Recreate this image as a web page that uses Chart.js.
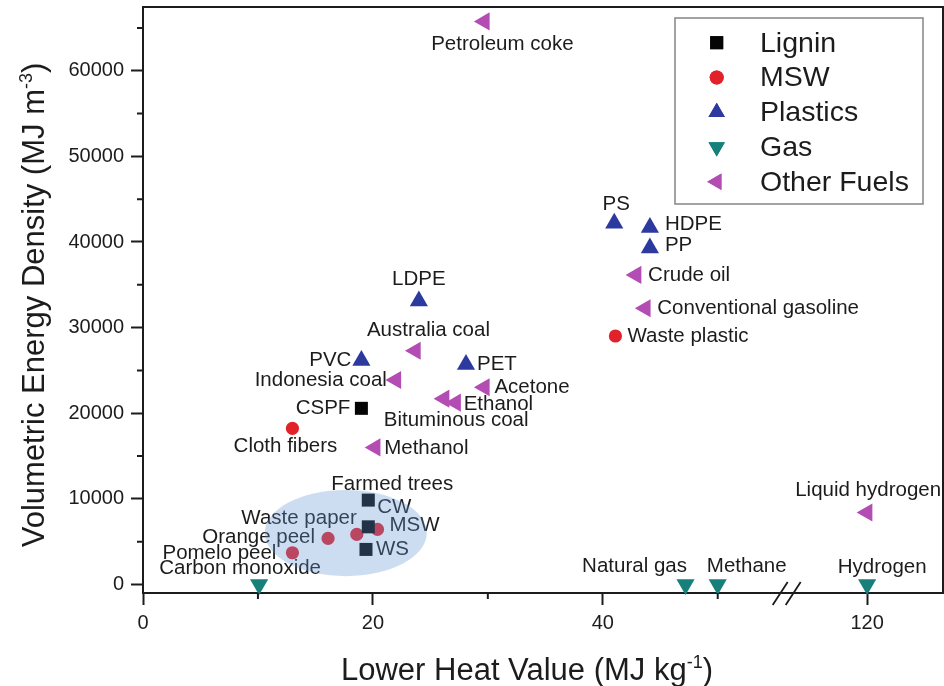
<!DOCTYPE html>
<html>
<head>
<meta charset="utf-8">
<script src="https://cdn.jsdelivr.net/npm/chart.js@4.4.1/dist/chart.umd.min.js"></script>
<style>
  html, body { margin: 0; padding: 0; background: #ffffff; }
  #wrap { width: 944px; height: 686px; }
</style>
</head>
<body>
<div id="wrap"><canvas id="chart" width="944" height="686"></canvas></div>
<script>
// ---- Data: lower heat value (MJ/kg) vs volumetric energy density (MJ/m3) ----
const ligninNames = ['CSPF', 'Farmed trees', 'CW', 'WS'];
const ligninLHV   = [19.0, 19.6, 19.6, 19.4];
const ligninVED   = [20570, 9850, 6730, 4090];

const mswNames = ['Cloth fibers', 'Waste plastic', 'Pomelo peel', 'Orange peel', 'Waste paper', 'MSW'];
const mswLHV   = [13.0, 41.1, 13.0, 16.1, 18.6, 20.4];
const mswVED   = [18230, 29020, 3700, 5380, 5840, 6430];

const plasticNames = ['LDPE', 'PVC', 'PET', 'PS', 'HDPE', 'PP'];
const plasticLHV   = [24.0, 19.0, 28.1, 41.0, 44.1, 44.1];
const plasticVED   = [33100, 26150, 25700, 42200, 41700, 39300];

const gasNames = ['Carbon monoxide', 'Natural gas', 'Methane', 'Hydrogen'];
const gasLHV   = [10.1, 47.2, 50.0, 120.0];
const gasVED   = [0, 0, 0, 0];

const otherNames = ['Petroleum coke', 'Australia coal', 'Indonesia coal', 'Acetone', 'Bituminous coal',
                    'Ethanol', 'Methanol', 'Crude oil', 'Conventional gasoline', 'Liquid hydrogen'];
const otherLHV   = [29.7, 23.7, 22.0, 29.7, 26.2, 27.2, 20.2, 42.9, 43.7, 120.0];
const otherVED   = [65760, 27300, 23880, 23030, 21700, 21230, 16010, 36150, 32260, 8400];

const seriesNames = ['Lignin', 'MSW', 'Plastics', 'Gas', 'Other Fuels'];

// Axis ticks
const xTicksLow  = [0, 10, 20, 30, 40, 50];
const xTicksHigh = [120];
const xLabelled  = [0, 20, 40, 120];
const yTicks     = [0, 5000, 10000, 15000, 20000, 25000, 30000, 35000, 40000, 45000, 50000, 55000, 60000, 65000];
const yLabelled  = [0, 10000, 20000, 30000, 40000, 50000, 60000];

// Broken x axis: low segment and high segment
const X_LOW_MAX  = 56;
const X_HIGH_MIN = 113;
const X_HIGH_MAX = 126.6;
const Y_MIN = -1000;
const Y_MAX = 67450;

// Shaded biomass region (data units)
const biomassRegion = { cx: 17.64, cy: 6000, rx: 7.05, ry: 5030 };

// ---- Styling ----
const FONT = "'Liberation Sans', Arial, Helvetica, sans-serif";
const TITLE_FONT = "'Liberation Sans', Arial, sans-serif";
const INK = '#1c1c1c';

const seriesStyle = {
  'Lignin':      { pointStyle: 'rect',     rotation: 0,   radius: 9.2,  color: '#050505' },
  'MSW':         { pointStyle: 'circle',   rotation: 0,   radius: 6.6,  color: '#e2222b' },
  'Plastics':    { pointStyle: 'triangle', rotation: 0,   radius: 10.5, color: '#2c3a9f' },
  'Gas':         { pointStyle: 'triangle', rotation: 180, radius: 10.5, color: '#17807a' },
  'Other Fuels': { pointStyle: 'triangle', rotation: -90, radius: 10.5, color: '#b34db4' }
};

// label placement relative to each marker: [dx, dy, textAlign]
const labelPlacement = {
  'Petroleum coke': [18, 23, 'center'],
  'LDPE': [0, -22, 'center'],
  'Australia coal': [13, -20, 'center'],
  'PVC': [-10, 0, 'right'],
  'PET': [11, 0, 'left'],
  'Indonesia coal': [-9, 0, 'right'],
  'Acetone': [10, 0, 'left'],
  'Ethanol': [8, 2, 'left'],
  'Bituminous coal': [12, 22, 'center'],
  'CSPF': [-11, 0, 'right'],
  'Cloth fibers': [-7, 18, 'center'],
  'Methanol': [9, 1, 'left'],
  'Farmed trees': [24, -16, 'center'],
  'CW': [9, -19, 'left'],
  'MSW': [12, -4, 'left'],
  'WS': [10, 0, 'left'],
  'Waste paper': [0, -16, 'right'],
  'Orange peel': [-13, -1, 'right'],
  'Pomelo peel': [-16, 1, 'right'],
  'Carbon monoxide': [-19, -16, 'center'],
  'Natural gas': [-51, -18, 'center'],
  'Methane': [29, -18, 'center'],
  'Hydrogen': [15, -17, 'center'],
  'Liquid hydrogen': [1, -22, 'center'],
  'Waste plastic': [12, 0, 'left'],
  'Conventional gasoline': [12, 0, 'left'],
  'Crude oil': [12, 0, 'left'],
  'PS': [2, -19, 'center'],
  'HDPE': [15, -3, 'left'],
  'PP': [15, -3, 'left']
};

// ---- Datasets (points beyond the break go on the high x segment) ----
function buildSeries(series, names, xs, ys) {
  const low = [], high = [];
  xs.forEach((x, i) => {
    const p = { x: x, y: ys[i], name: names[i] };
    (x > X_LOW_MAX ? high : low).push(p);
  });
  const st = seriesStyle[series];
  const base = {
    label: series,
    showLine: false,
    pointStyle: st.pointStyle,
    pointRotation: st.rotation,
    pointRadius: st.radius,
    pointHoverRadius: st.radius,
    pointBackgroundColor: st.color,
    pointBorderColor: st.color,
    pointBorderWidth: 0,
    backgroundColor: st.color,
    borderColor: st.color
  };
  const out = [Object.assign({}, base, { data: low, xAxisID: 'xL', yAxisID: 'y' })];
  if (high.length) out.push(Object.assign({}, base, { data: high, xAxisID: 'xR', yAxisID: 'y' }));
  return out;
}

const datasets = [].concat(
  buildSeries('Lignin', ligninNames, ligninLHV, ligninVED),
  buildSeries('MSW', mswNames, mswLHV, mswVED),
  buildSeries('Plastics', plasticNames, plasticLHV, plasticVED),
  buildSeries('Gas', gasNames, gasLHV, gasVED),
  buildSeries('Other Fuels', otherNames, otherLHV, otherVED)
);

// ---- Drawing helpers ----
function drawMarker(ctx, style, radius, x, y) {
  if (Chart.helpers && Chart.helpers.drawPoint) {
    Chart.helpers.drawPoint(ctx, { pointStyle: style.pointStyle, rotation: style.rotation, radius: radius, borderWidth: 0 }, x, y);
    ctx.fill();
  }
}

function drawSupText(ctx, parts, size, supSize, supRise) {
  // parts: [[text, isSup], ...]; centred on x=0, baseline at y=0
  let w = 0;
  parts.forEach(([t, sup]) => {
    ctx.font = (sup ? supSize : size) + 'px ' + TITLE_FONT;
    w += ctx.measureText(t).width;
  });
  let x = -w / 2;
  parts.forEach(([t, sup]) => {
    ctx.font = (sup ? supSize : size) + 'px ' + TITLE_FONT;
    ctx.fillText(t, x, sup ? -supRise : 0);
    x += ctx.measureText(t).width;
  });
}

const pointLabels = {
  id: 'pointLabels',
  afterDatasetsDraw(chart) {
    const ctx = chart.ctx;
    ctx.save();
    ctx.font = '20.5px ' + FONT;
    ctx.fillStyle = INK;
    ctx.textBaseline = 'middle';
    chart.data.datasets.forEach((ds, i) => {
      const meta = chart.getDatasetMeta(i);
      meta.data.forEach((el, j) => {
        const name = ds.data[j].name;
        const pl = labelPlacement[name] || [10, 0, 'left'];
        ctx.textAlign = pl[2];
        ctx.fillText(name, el.x + pl[0], el.y + pl[1]);
      });
    });
    // translucent highlight over the biomass cluster
    const xs = chart.scales.xL, ys = chart.scales.y;
    const cx = xs.getPixelForValue(biomassRegion.cx);
    const cy = ys.getPixelForValue(biomassRegion.cy);
    const rx = xs.getPixelForValue(biomassRegion.cx + biomassRegion.rx) - cx;
    const ry = cy - ys.getPixelForValue(biomassRegion.cy + biomassRegion.ry);
    ctx.beginPath();
    ctx.ellipse(cx, cy, rx, ry, 0, 0, Math.PI * 2);
    ctx.fillStyle = 'rgba(100, 150, 212, 0.32)';
    ctx.fill();
    ctx.restore();
  }
};

const frameAndTicks = {
  id: 'frameAndTicks',
  afterDraw(chart) {
    const ctx = chart.ctx;
    const a = chart.chartArea;
    ctx.save();
    ctx.strokeStyle = INK;
    ctx.lineWidth = 2;
    // top and right frame
    ctx.beginPath();
    ctx.moveTo(a.left, a.top);
    ctx.lineTo(a.right, a.top);
    ctx.lineTo(a.right, a.bottom);
    ctx.stroke();
    // minor ticks
    const y = chart.scales.y, xL = chart.scales.xL;
    ctx.beginPath();
    yTicks.filter(v => yLabelled.indexOf(v) < 0).forEach(v => {
      const py = y.getPixelForValue(v);
      ctx.moveTo(a.left - 6, py);
      ctx.lineTo(a.left, py);
    });
    xTicksLow.filter(v => xLabelled.indexOf(v) < 0).forEach(v => {
      const px = xL.getPixelForValue(v);
      ctx.moveTo(px, a.bottom);
      ctx.lineTo(px, a.bottom + 6);
    });
    ctx.stroke();
    // axis break marks
    const bx = chart.scales.xR.left;
    ctx.lineWidth = 1.8;
    ctx.beginPath();
    ctx.moveTo(bx - 14, a.bottom + 12); ctx.lineTo(bx + 1, a.bottom - 11);
    ctx.moveTo(bx - 1, a.bottom + 12); ctx.lineTo(bx + 14, a.bottom - 11);
    ctx.stroke();

    // axis titles
    ctx.fillStyle = INK;
    ctx.textAlign = 'left';
    ctx.textBaseline = 'alphabetic';
    ctx.save();
    ctx.translate(527, 680);
    drawSupText(ctx, [['Lower Heat Value (MJ kg', false], ['-1', true], [')', false]], 31, 18, 12);
    ctx.restore();
    ctx.save();
    ctx.translate(44, 305);
    ctx.rotate(-Math.PI / 2);
    drawSupText(ctx, [['Volumetric Energy Density (MJ m', false], ['-3', true], [')', false]], 31, 18, 12);
    ctx.restore();

    // legend
    const L = { left: 675, top: 18, right: 923, bottom: 204 };
    ctx.fillStyle = '#ffffff';
    ctx.fillRect(L.left, L.top, L.right - L.left, L.bottom - L.top);
    ctx.strokeStyle = '#8c8c8c';
    ctx.lineWidth = 1.6;
    ctx.strokeRect(L.left, L.top, L.right - L.left, L.bottom - L.top);
    const legendRadius = { 'rect': 9.2, 'circle': 7, 'triangle': 9.5 };
    seriesNames.forEach((s, i) => {
      const st = seriesStyle[s];
      const my = 42.7 + i * 34.75;
      ctx.fillStyle = st.color;
      drawMarker(ctx, st, legendRadius[st.pointStyle], 716.7, my);
      ctx.fillStyle = INK;
      ctx.font = '28.5px ' + FONT;
      ctx.textBaseline = 'middle';
      ctx.textAlign = 'left';
      ctx.fillText(s, 760, my + 1);
    });
    ctx.restore();
  }
};

function xAxis(min, max, ticks, weight) {
  return {
    type: 'linear',
    position: 'bottom',
    stack: 'lhv',
    stackWeight: weight,
    min: min,
    max: max,
    afterBuildTicks: s => { s.ticks = ticks.map(v => ({ value: v })); },
    afterFit: s => { s.height = 93; s.paddingLeft = 0; s.paddingRight = 0; },
    ticks: {
      autoSkip: false,
      maxRotation: 0,
      padding: 6,
      color: INK,
      font: { family: FONT, size: 20 },
      callback: v => (xLabelled.indexOf(v) >= 0 ? String(v) : '')
    },
    grid: {
      drawOnChartArea: false,
      drawTicks: true,
      tickLength: 12,
      tickWidth: 2,
      tickColor: c => (c.tick && xLabelled.indexOf(c.tick.value) >= 0 ? INK : 'rgba(0,0,0,0)')
    },
    border: { display: true, color: INK, width: 2 },
    title: { display: false }
  };
}

new Chart(document.getElementById('chart'), {
  type: 'scatter',
  data: { datasets: datasets },
  options: {
    responsive: false,
    animation: false,
    devicePixelRatio: 1,
    clip: false,
    layout: { autoPadding: false, padding: { top: 7, right: 1, left: 0, bottom: 0 } },
    plugins: {
      legend: { display: false },
      tooltip: { enabled: false }
    },
    scales: {
      xL: xAxis(0, X_LOW_MAX, xTicksLow, X_LOW_MAX),
      xR: xAxis(X_HIGH_MIN, X_HIGH_MAX, xTicksHigh, X_HIGH_MAX - X_HIGH_MIN),
      y: {
        type: 'linear',
        position: 'left',
        min: Y_MIN,
        max: Y_MAX,
        afterBuildTicks: s => { s.ticks = yTicks.map(v => ({ value: v })); },
        afterFit: s => { s.width = 143; s.paddingTop = 0; s.paddingBottom = 0; },
        ticks: {
          autoSkip: false,
          padding: 7,
          color: INK,
          font: { family: FONT, size: 20 },
          callback: v => (yLabelled.indexOf(v) >= 0 ? String(v) : '')
        },
        grid: {
          drawOnChartArea: false,
          drawTicks: true,
          tickLength: 12,
          tickWidth: 2,
          tickColor: c => (c.tick && yLabelled.indexOf(c.tick.value) >= 0 ? INK : 'rgba(0,0,0,0)')
        },
        border: { display: true, color: INK, width: 2 },
        title: { display: false }
      }
    }
  },
  plugins: [pointLabels, frameAndTicks]
});
</script>
</body>
</html>
